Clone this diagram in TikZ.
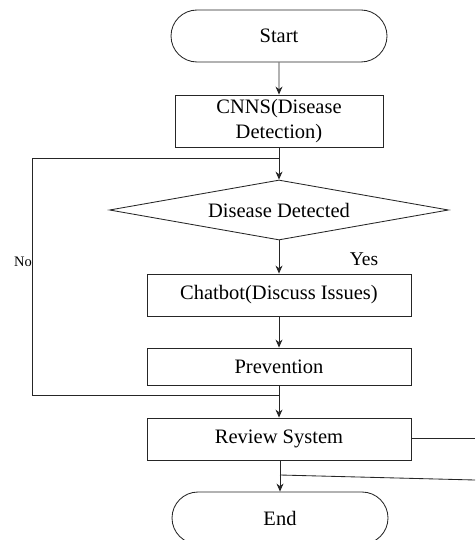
\documentclass[tikz,border=0pt]{standalone}
\usepackage{fontspec}
\setmainfont{Liberation Serif}
\usetikzlibrary{shapes.geometric,shapes.misc,arrows.meta}
\begin{document}
\begin{tikzpicture}[x=1pt,y=-1pt,
  every node/.style={font=\fontsize{20.5}{24}\selectfont, text=black},
  ln/.style={draw=black!85, line width=0.85pt},
  arr/.style={ln, -{Stealth[length=8pt,width=7pt]}},
  term/.style={rounded rectangle, draw=black!85, line width=0.85pt, minimum width=216pt, minimum height=52pt, inner sep=0pt},
  proc/.style={rectangle, draw=black!85, line width=0.85pt, inner sep=0pt},
  dec/.style={diamond, draw=black!85, line width=0.85pt, minimum width=339pt, minimum height=60pt, aspect=5.65, inner sep=0pt}]
\useasboundingbox (0,0) rectangle (475,540);
\node[term] (start) at (279,36) {Start};
\node[proc, minimum width=208pt, minimum height=52pt, align=center] (cnn) at (279,121) {CNNS(Disease\\[1pt]Detection)};
\node[dec] (dis) at (279,210) {Disease Detected};
\node[proc, minimum width=264pt, minimum height=42pt] (chat) at (279,295) {Chatbot(Discuss Issues)};
\node[proc, minimum width=264pt, minimum height=37pt] (prev) at (279,366.5) {Prevention};
\node[proc, minimum width=264pt, minimum height=42pt] (rev) at (279,439) {Review System};
\node[term] (end) at (280,518) {End};
\node[font=\fontsize{14.5}{16}\selectfont] (no) at (23,262) {No};
\node[font=\fontsize{19.5}{22}\selectfont] (yes) at (364,259) {Yes};
\coordinate (j1) at (279,158);
\coordinate (l1) at (32,158);
\coordinate (l2) at (32,395);
\coordinate (j2) at (279,395);
\coordinate (re) at (475,438);
\coordinate (j3) at (280,475);
\coordinate (re2) at (475,480);
\draw[arr] (start) -- (start|-cnn.north);
\draw[arr] (cnn.south) -- (dis.north);
\draw[ln] (j1) -- (l1) -- (l2) -- (j2);
\draw[arr] (dis.south) -- (chat.north);
\draw[arr] (chat) -- (prev);
\draw[arr] (prev) -- (rev);
\draw[ln] (rev.east|-re) -- (re);
\draw[arr] (rev.south-|end) -- (end.north);
\draw[ln] (j3) -- (re2);
\end{tikzpicture}
\end{document}
